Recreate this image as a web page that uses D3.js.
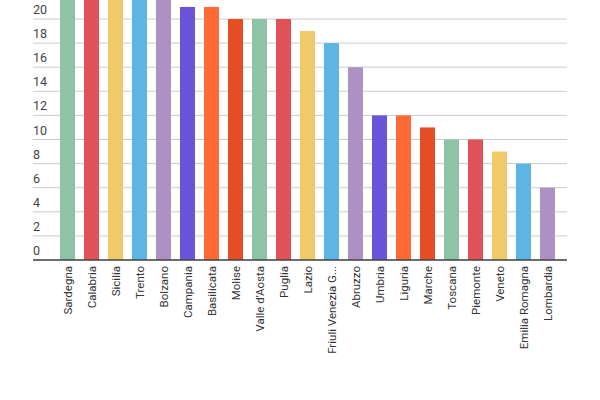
<!DOCTYPE html><html><head><meta charset="utf-8"><script src="https://cdn.jsdelivr.net/npm/d3@7"></script>
<style>body{margin:0;background:#fff}text{font-family:Roboto,sans-serif}</style></head><body><svg width="600" height="400"></svg><script>
const categories=["Sardegna","Calabria","Sicilia","Trento","Bolzano","Campania","Basilicata","Molise","Valle d'Aosta","Puglia","Lazio","Friuli Venezia G...","Abruzzo","Umbria","Liguria","Marche","Toscana","Piemonte","Veneto","Emilia Romagna","Lombardia"];
const values=[25,25,25,25,25,21,21,20,20,20,19,18,16,12,12,11,10,10,9,8,6];
const ticks=[0,2,4,6,8,10,12,14,16,18,20];
const colors=["#8fc3a6","#e05257","#efc96a","#5db5e3","#ad91c5","#6c54da","#fe6a35","#e44e22"];
const svg=d3.select("svg");
const y=d3.scaleLinear().domain([0,20]).range([260,19]);
const x=d3.scaleBand().domain(categories).range([55.5,559.5]).paddingInner(0.375).paddingOuter(0.1875);
svg.selectAll(".g").data(ticks).join("line").attr("x1",33).attr("x2",567).attr("y1",d=>y(d)).attr("y2",d=>y(d)).attr("stroke","#ccc").attr("stroke-width",1);
svg.selectAll(".yl").data(ticks).join("text").attr("x",33).attr("y",d=>y(d)-5).text(d=>d).attr("font-size",12.5).attr("fill","#444");
svg.selectAll("rect").data(values).join("rect").attr("x",(d,i)=>x(categories[i])).attr("width",x.bandwidth()).attr("y",d=>Math.max(0,y(d))).attr("height",d=>260-Math.max(0,y(d))).attr("fill",(d,i)=>colors[i%8]);
svg.append("line").attr("x1",33).attr("x2",567).attr("y1",260).attr("y2",260).attr("stroke","#444").attr("stroke-width",1.5);
svg.selectAll(".xl").data(categories).join("text").attr("transform",d=>`translate(${x(d)+x.bandwidth()/2+4},266) rotate(-90)`).attr("text-anchor","end").attr("font-size",11.5).attr("fill","#333").text(d=>d);
</script></body></html>
